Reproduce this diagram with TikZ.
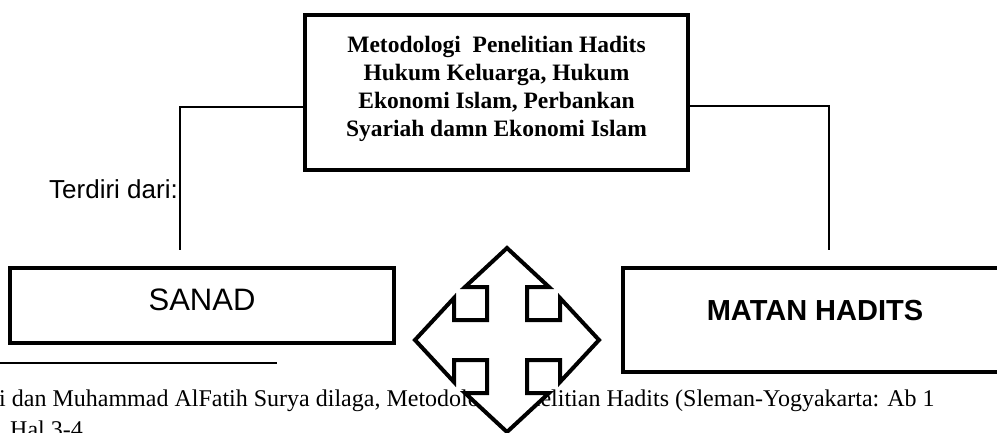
\documentclass[tikz,border=0pt]{standalone}
\usepackage{fontspec}
\setmainfont{Liberation Serif}
\newfontfamily\arialf{Liberation Sans}
\begin{document}
\begin{tikzpicture}[x=1pt,y=-1pt,
  boxthick/.style={draw=black,line width=4pt,rectangle,inner sep=0pt},
  thinline/.style={draw=black,line width=1.3pt},
  arrowshape/.style={draw=black,fill=white,line width=4pt,line join=miter}]
\clip (0,0) rectangle (997,432);
\useasboundingbox (0,0) rectangle (997,432);
% footnote
\draw[thinline] (0,363) -- (277,363);
\node[anchor=base west,inner sep=0pt,font=\fontsize{24pt}{28pt}\selectfont] (fn1) at (-1,406)
  {i dan Muhammad AlFatih Surya dilaga, Metodologi Penelitian Hadits (Sleman-Yogyakarta: Ab 1};
\node[anchor=base west,inner sep=0pt,font=\fontsize{24pt}{28pt}\selectfont] (fn2) at (10,437) {Hal 3-4};
% top box
\node[boxthick,minimum width=383pt,minimum height=155pt] (top) at (496.5,92.5) {};
\node[anchor=north,align=center,inner sep=0pt,font=\bfseries\fontsize{23.5pt}{28pt}\selectfont] (toptext) at (496.5,36)
  {Metodologi\ \ Penelitian Hadits\\Hukum Keluarga, Hukum\\Ekonomi Islam, Perbankan\\Syariah damn Ekonomi Islam};
% bottom boxes
\node[boxthick,minimum width=384pt,minimum height=75pt,text height=22.2pt,text depth=13pt,
  font=\arialf\fontsize{31pt}{36pt}\selectfont] (sanad) at (202,305.5) {SANAD};
\node[boxthick,minimum width=384pt,minimum height=104pt,text height=21pt,text depth=21pt,
  font=\arialf\bfseries\fontsize{29pt}{34pt}\selectfont] (matan) at (815,320) {MATAN HADITS};
% label
\node[anchor=base east,inner sep=0pt,font=\arialf\fontsize{26pt}{30pt}\selectfont] (terdiri) at (178,198) {Terdiri dari:};
% connectors
\coordinate (lend) at (180,250);
\coordinate (rend) at (829,250);
\draw[thinline] ([yshift=-14.5pt]top.west) -| (lend);
\draw[thinline] ([yshift=-13.5pt]top.east) -| (rend);
% four-way arrow
\coordinate (ac) at (507,340);
\draw[arrowshape,shift={(ac)}]
  (0,-92) -- (42,-53) -- (20,-53) -- (20,-20) -- (53,-20) -- (53,-42) -- (92,0)
  -- (53,42) -- (53,20) -- (20,20) -- (20,53) -- (42,53) -- (0,92)
  -- (-42,53) -- (-20,53) -- (-20,20) -- (-53,20) -- (-53,42) -- (-92,0)
  -- (-53,-42) -- (-53,-20) -- (-20,-20) -- (-20,-53) -- (-42,-53) -- cycle;
\end{tikzpicture}
\end{document}
